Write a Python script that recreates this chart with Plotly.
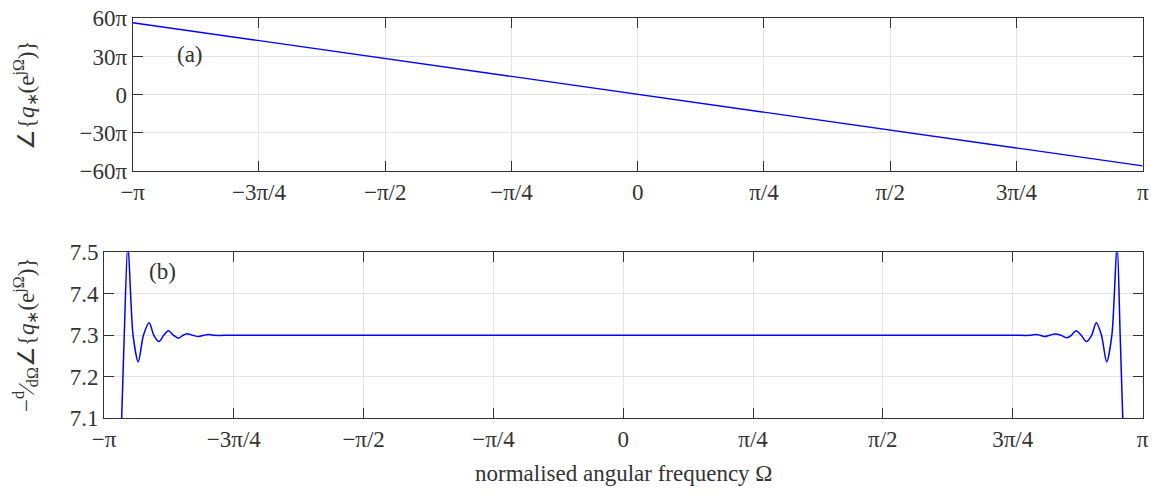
import numpy as np
import plotly.graph_objects as go

PI = np.pi

# ---- data (frequency in units of pi) ----
phase_omega = [-1.0, -0.75, -0.5, -0.25, 0.0, 0.25, 0.5, 0.75, 1.0]
phase_vals = [56.5, 42.4, 28.3, 14.1, 0.0, -14.1, -28.3, -42.2, -56.0]  # in units of pi

gd_omega = [-1.0, -0.975, -0.966, -0.961, -0.954, -0.944, -0.934, -0.924, -0.913,
            -0.904, -0.894, -0.885, -0.876, -0.866, -0.857, -0.848, -0.840, -0.829,
            -0.818, -0.808, -0.799, -0.79, -0.75, -0.5, 0.0, 0.5, 0.75, 0.785,
            0.795, 0.803, 0.811, 0.821, 0.831, 0.843, 0.854, 0.863, 0.872, 0.882,
            0.892, 0.902, 0.911, 0.921, 0.931, 0.941, 0.951, 0.957, 0.962, 0.97, 1.0]
gd_vals = [6.0, 6.8, 7.1, 7.3, 7.52, 7.3, 7.236, 7.3, 7.33,
           7.3, 7.285, 7.3, 7.311, 7.3, 7.293, 7.3, 7.304, 7.3,
           7.297, 7.3, 7.302, 7.3, 7.3, 7.3, 7.3, 7.3, 7.3, 7.3,
           7.302, 7.3, 7.297, 7.3, 7.303, 7.3, 7.294, 7.3, 7.311, 7.3,
           7.285, 7.3, 7.33, 7.3, 7.236, 7.3, 7.52, 7.3, 7.1, 6.8, 6.0]

x_tickvals = [-1, -0.75, -0.5, -0.25, 0, 0.25, 0.5, 0.75, 1]
x_ticktext = ["−π", "−3π/4", "−π/2", "−π/4", "0", "π/4", "π/2", "3π/4", "π"]
y1_tickvals = [-60, -30, 0, 30, 60]
y1_ticktext = ["−60π", "−30π", "0", "30π", "60π"]
y2_tickvals = [7.1, 7.2, 7.3, 7.4, 7.5]
y2_ticktext = ["7.1", "7.2", "7.3", "7.4", "7.5"]

# page has an 8px body margin; figure origin sits at (8, 8) on screen
OX, OY = 8, 8
W, H = 1142, 482
FONT = "Liberation Serif"
FS = 23
BLUE = "#0000ff"
FRAME = "#333333"
GRID = "#e3e3e3"
TXT = "#333333"
EPS = 1e-6

fig = go.Figure()
fig.add_trace(go.Scatter(x=np.array(phase_omega) * PI, y=np.array(phase_vals) * PI,
                         mode="lines", line=dict(color=BLUE, width=1.3),
                         xaxis="x", yaxis="y", showlegend=False))
fig.add_trace(go.Scatter(x=np.array(gd_omega) * PI, y=gd_vals,
                         mode="lines", line=dict(color=BLUE, width=1.5, shape="spline", smoothing=0.8),
                         xaxis="x2", yaxis="y2", showlegend=False))

def px_x(v):
    return (v - OX) / W

def px_y(v):
    return 1 - (v - OY) / H

common_axis = dict(showline=True, linecolor=FRAME, linewidth=1, mirror="ticks",
                   ticks="inside", ticklen=10, tickcolor=FRAME, tickwidth=1,
                   showgrid=True, gridcolor=GRID, gridwidth=1, zeroline=False,
                   automargin=False, ticklabeloverflow="allow",
                   tickfont=dict(family=FONT, size=FS, color=TXT))

def note(text, x, y, angle=0):
    return dict(text=text, x=px_x(x), y=px_y(y), xref="paper", yref="paper",
                xanchor="center", yanchor="middle", showarrow=False, textangle=angle,
                font=dict(family=FONT, size=FS, color=TXT))

fig.update_layout(
    width=W, height=H,
    margin=dict(l=0, r=0, t=0, b=0),
    paper_bgcolor="white", plot_bgcolor="white",
    xaxis=dict(domain=[px_x(132.7), px_x(1142.7)], anchor="y",
               range=[-PI * (1 + EPS), PI * (1 + EPS)],
               tickvals=np.array(x_tickvals) * PI, ticktext=x_ticktext, **common_axis),
    yaxis=dict(domain=[px_y(171), px_y(18.3)], anchor="x",
               range=[-60 * PI * (1 + EPS), 60 * PI * (1 + EPS)],
               tickvals=np.array(y1_tickvals) * PI, ticktext=y1_ticktext, **common_axis),
    xaxis2=dict(domain=[px_x(104), px_x(1142.5)], anchor="y2",
                range=[-PI * (1 + EPS), PI * (1 + EPS)],
                tickvals=np.array(x_tickvals) * PI, ticktext=x_ticktext, **common_axis),
    yaxis2=dict(domain=[px_y(418.3), px_y(252.3)], anchor="x2", range=[7.1 - EPS, 7.5 + EPS],
                tickvals=y2_tickvals, ticktext=y2_ticktext, **common_axis),
    annotations=[
        dict(text="(a)", x=-0.886 * PI, y=31.2 * PI, xref="x", yref="y", showarrow=False,
             xanchor="center", yanchor="middle",
             font=dict(family=FONT, size=FS, color=TXT)),
        dict(text="(b)", x=-0.888 * PI, y=7.453, xref="x2", yref="y2", showarrow=False,
             xanchor="center", yanchor="middle",
             font=dict(family=FONT, size=FS, color=TXT)),
        note("∠{<i>q</i><sub>∗</sub>(e<sup>jΩ</sup>)}", 25, 95, -90),
        note("−<sup>d</sup>⁄<sub>dΩ</sub>∠{<i>q</i><sub>∗</sub>(e<sup>jΩ</sup>)}", 25, 335, -90),
        note("normalised angular frequency Ω", 623, 473),
    ],
)

fig.write_html("out.html")
